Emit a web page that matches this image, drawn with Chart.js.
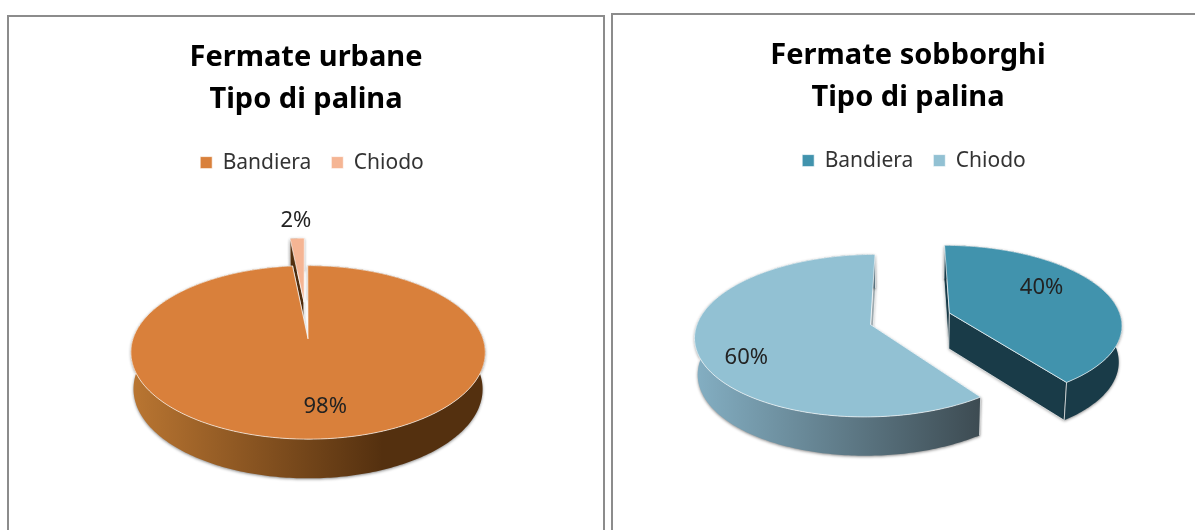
<!DOCTYPE html>
<html>
<head>
<meta charset="utf-8">
<title>Fermate - Tipo di palina</title>
<script src="https://cdn.jsdelivr.net/npm/chart.js@4/dist/chart.umd.js"></script>
<style>
  html, body { margin: 0; background: #fff; overflow: hidden; }
  .frame { position: absolute; box-sizing: border-box; border: 2px solid #8c8c8c; }
  canvas { position: absolute; }
</style>
</head>
<body>
<div class="frame" style="left:7px;top:15px;width:598px;height:540px"></div>
<div class="frame" style="left:611px;top:13px;width:620px;height:540px"></div>
<canvas id="chart1" width="592" height="513" style="left:9px;top:17px"></canvas>
<canvas id="chart2" width="590" height="515" style="left:613px;top:15px"></canvas>
<script>
const categories = ['Bandiera', 'Chiodo']
const urbanValues = [98.4, 1.6]
const suburbValues = [40, 60]
const urbanTitle = ['Fermate urbane', 'Tipo di palina']
const suburbTitle = ['Fermate sobborghi', 'Tipo di palina']

const FONT = '"Noto Sans", "Open Sans", sans-serif'

// look of the fake 3D, one entry per slice where it is an array
const urbanLook = {
  tilt: 0.467, persp: 0.15, depth: 35.6,
  shade: [['#BA7632', '#54300F', 0.71], ['#54300F', '#54300F', 1]],
  radial: ['#A8ACAF', '#54300F'],
  labelAt: [[0.7, 10, 1], [1.23, 0, -5]]
}
const suburbLook = {
  tilt: 0.455, persp: 0.135, depth: 36,
  shade: [['#193B48', '#193B48', 1], ['#84AFC3', '#3D4B52', 1]],
  radial: ['#193B48', '#9DA9AE'],
  labelAt: [[0.55, 6, -12], [0.7, -4, 15]]
}

class Arc3d extends Chart.ArcElement {
  static id = 'arc3d'

  // plane (u, v) with v pointing away from the viewer, h = 1 is the bottom of the wall
  project(u, v, h, look) {
    const w = 1 + look.persp * v
    return [
      this.x + this.outerRadius * u / w * (1 - 0.015 * h),
      this.y - this.outerRadius * look.tilt * v / w + h * look.depth / (1 + look.persp * v / 2)
    ]
  }

  shiftUV() {
    const mid = (this.startAngle + this.endAngle) / 2
    const d = (this.options.offset || 0) / this.outerRadius
    return [Math.cos(mid) * d, -Math.sin(mid) * d]
  }

  point(angle, rho, h, look) {
    const [su, sv] = this.shiftUV()
    return this.project(su + Math.cos(angle) * rho, sv - Math.sin(angle) * rho, h, look)
  }

  draw(ctx, area, index, look) {
    const steps = Math.max(4, Math.ceil((this.endAngle - this.startAngle) * 60))
    const top = [], bottom = []
    for (let i = 0; i <= steps; i++) {
      const a = this.startAngle + (this.endAngle - this.startAngle) * i / steps
      top.push(this.point(a, 1, 0, look))
      bottom.push(this.point(a, 1, 1, look))
    }
    const xs = top.map(p => p[0])
    const shade = look.shade[index]
    const grad = ctx.createLinearGradient(Math.min(...xs), 0, Math.max(...xs), 0)
    grad.addColorStop(0, shade[0])
    grad.addColorStop(shade[2], shade[1])
    grad.addColorStop(1, shade[1])

    ctx.save()
    ctx.lineWidth = 1
    ctx.strokeStyle = this.options.borderColor

    // radial walls
    const c0 = this.point(0, 0, 0, look), c1 = this.point(0, 0, 1, look)
    const ends = [[top[0], bottom[0]], [top[steps], bottom[steps]]]
    ends.forEach(e => {
      ctx.beginPath()
      ctx.moveTo(c0[0], c0[1])
      ctx.lineTo(e[0][0], e[0][1])
      ctx.lineTo(e[1][0], e[1][1])
      ctx.lineTo(c1[0], c1[1])
      ctx.closePath()
      ctx.fillStyle = look.radial[index]
      ctx.shadowColor = 'rgba(0,0,0,0.35)'
      ctx.shadowBlur = 3
      ctx.shadowOffsetY = 1
      ctx.fill()
      ctx.shadowColor = 'transparent'
      ctx.stroke()
    })

    // outer wall
    ctx.beginPath()
    top.forEach((p, i) => i ? ctx.lineTo(p[0], p[1]) : ctx.moveTo(p[0], p[1]))
    for (let i = steps; i >= 0; i--) ctx.lineTo(bottom[i][0], bottom[i][1])
    ctx.closePath()
    ctx.fillStyle = grad
    ctx.shadowColor = 'rgba(0,0,0,0.45)'
    ctx.shadowBlur = 3
    ctx.shadowOffsetY = 1
    ctx.fill()
    ctx.shadowColor = 'transparent'

    // pale seams where the walls meet
    ends.forEach(e => {
      ctx.beginPath()
      ctx.moveTo(e[0][0], e[0][1])
      ctx.lineTo(e[1][0], e[1][1])
      ctx.stroke()
    })

    // top face
    ctx.beginPath()
    ctx.moveTo(c0[0], c0[1])
    top.forEach(p => ctx.lineTo(p[0], p[1]))
    ctx.closePath()
    ctx.fillStyle = this.options.backgroundColor
    ctx.fill()
    ctx.stroke()
    ctx.restore()
  }
}

class Pie3dController extends Chart.PieController {
  static id = 'pie3d'
  static defaults = { dataElementType: 'arc3d' }
  static overrides = Chart.DoughnutController.overrides

  // back to front, so the front slice covers what is behind it
  draw() {
    const ctx = this.chart.ctx
    const area = this.chart.chartArea
    const arcs = this._cachedMeta.data
    const look = this.getDataset().look
    for (let i = arcs.length - 1; i >= 0; i--) {
      arcs[i].draw(ctx, area, i, look)
    }
  }
}

Chart.register(Arc3d, Pie3dController)

const percentLabels = {
  id: 'percentLabels',
  afterLayout(chart) {
    // the legend sits a little right of the title in the original
    chart.legend.left += 6
    chart.legend.right += 6
  },
  afterDatasetsDraw(chart) {
    const ds = chart.data.datasets[0]
    const total = ds.data.reduce((a, b) => a + b, 0)
    const ctx = chart.ctx
    ctx.save()
    ctx.font = '22px ' + FONT
    ctx.fillStyle = '#222'
    ctx.textAlign = 'center'
    ctx.textBaseline = 'middle'
    chart.getDatasetMeta(0).data.forEach((arc, i) => {
      const at = ds.look.labelAt[i]
      const p = arc.point((arc.startAngle + arc.endAngle) / 2, at[0], 0, ds.look)
      ctx.fillText(Math.round(ds.data[i] / total * 100) + '%', p[0] + at[1], p[1] + at[2])
    })
    ctx.restore()
  }
}

function makePie(id, title, values, colors, look, radius, offset, padding) {
  new Chart(document.getElementById(id), {
    type: 'pie3d',
    data: {
      labels: categories,
      datasets: [{
        data: values,
        look: look,
        backgroundColor: colors,
        borderColor: 'rgba(255,255,255,0.65)',
        borderWidth: 1,
        offset: offset,
        radius: radius
      }]
    },
    options: {
      responsive: false,
      animation: false,
      events: [],
      layout: { padding: padding },
      plugins: {
        title: {
          display: true,
          text: title,
          color: '#000',
          font: { family: FONT, size: 29, weight: 'bold', lineHeight: 1.45 },
          padding: { top: 20, bottom: 11 }
        },
        legend: {
          position: 'top',
          onClick: null,
          labels: {
            boxWidth: 12,
            boxHeight: 12,
            padding: 20,
            color: '#333',
            font: { family: FONT, size: 21 }
          }
        },
        tooltip: { enabled: false }
      }
    },
    plugins: [percentLabels]
  })
}

makePie('chart1', urbanTitle, urbanValues, ['#D9803B', '#F5B594'], urbanLook, 169, 39, { left: 2, bottom: 73 })
makePie('chart2', suburbTitle, suburbValues, ['#4193AD', '#92C1D3'], suburbLook, 172, [44, 39], { bottom: 73 })
</script>
</body>
</html>
